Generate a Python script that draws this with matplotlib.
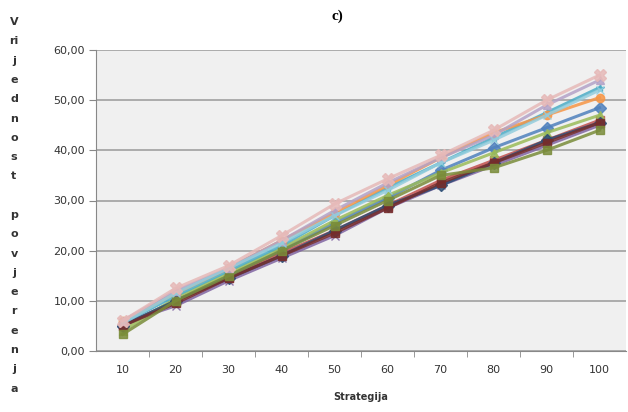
import matplotlib
matplotlib.use("Agg")
import matplotlib.pyplot as plt
import numpy as np

strategies = [10, 20, 30, 40, 50, 60, 70, 80, 90, 100]

s1 = [5.0, 10.0, 15.0, 20.0, 25.5, 30.5, 36.0, 40.5, 44.5, 48.5]
s2 = [5.0, 10.0, 14.5, 19.5, 24.0, 29.0, 34.0, 38.0, 42.0, 46.0]
s3 = [4.0, 10.5, 15.5, 20.5, 26.0, 31.0, 35.5, 39.5, 43.5, 47.0]
s4 = [5.5, 9.0, 14.0, 18.5, 23.0, 28.5, 33.0, 37.0, 41.0, 45.0]
s5 = [5.5, 11.0, 16.0, 21.0, 27.0, 32.5, 37.5, 42.5, 47.5, 52.5]
s6 = [6.0, 11.5, 16.5, 22.0, 27.5, 33.0, 38.5, 43.5, 47.0, 50.5]
s7 = [5.0, 10.0, 14.5, 19.0, 24.0, 29.0, 33.0, 37.5, 42.0, 45.5]
s8 = [5.0, 9.5, 14.5, 19.0, 23.5, 28.5, 33.5, 37.5, 41.5, 45.5]
s9 = [3.3, 10.0, 15.0, 20.0, 25.0, 30.0, 35.0, 36.5, 40.0, 44.0]
s10 = [6.0, 12.0, 16.5, 22.0, 28.0, 33.5, 38.5, 43.0, 49.0, 54.0]
s11 = [5.5, 11.5, 16.5, 21.5, 27.0, 32.0, 37.5, 42.0, 47.0, 52.0]
s12 = [6.0, 12.5, 17.0, 23.0, 29.3, 34.3, 39.0, 44.0, 50.0, 55.0]

series = [s1, s2, s3, s4, s5, s6, s7, s8, s9, s10, s11, s12]
colors = ['#4F81BD', '#C0504D', '#9BBB59', '#8064A2', '#4BACC6', '#F79646',
          '#2C4D75', '#772C2A', '#7A8C3A', '#B3A2C7', '#93CDDD', '#E6B9B8']
markers = ['D', 's', '^', 'x', '*', 'o', 'D', 's', 's', '^', 'x', 'X']

# stacked y label, Excel style (r and i share a row)
ylabel_rows = ['V', 'ri', 'j', 'e', 'd', 'n', 'o', 's', 't', '',
               'p', 'o', 'v', 'j', 'e', 'r', 'e', 'n', 'j', 'a']

fig = plt.figure(figsize=(6.28, 4.12), dpi=100)
ax = fig.add_axes([96 / 628, 1 - 351 / 412, 530 / 628, 301 / 412])
ax.set_facecolor('#F0F0F0')

x = np.arange(len(strategies))
for vals, c, m in zip(series, colors, markers):
    ms = 9 if m == 'X' else 6
    ax.plot(x, vals, color=c, lw=2.2, marker=m, ms=ms, alpha=0.85,
            markeredgecolor=c)

ax.set_xlim(-0.5, len(strategies) - 0.5)
ax.set_ylim(0, 60)
ax.set_yticks(np.arange(0, 61, 10))
ax.set_yticklabels(['%d,00' % v for v in range(0, 61, 10)],
                   fontsize=8, color='#333333')
ax.set_xticks(x)
ax.set_xticklabels([str(s) for s in strategies], fontsize=8, color='#333333')
ax.set_xticks(np.arange(0.5, len(strategies) - 0.5, 1), minor=True)
ax.tick_params(axis='x', which='major', length=0, pad=10)
ax.tick_params(axis='x', which='minor', length=4, color='#888888')
ax.tick_params(axis='y', length=5, color='#888888', pad=3)
ax.grid(axis='y', color='#A0A0A0', lw=1.2)
ax.set_axisbelow(True)
for side in ['top', 'right']:
    ax.spines[side].set_visible(False)
ax.spines['left'].set_color('#888888')
ax.spines['bottom'].set_color('#888888')

ax.set_xlabel('Strategija', fontsize=7, fontweight='bold', color='#333333',
              labelpad=12)

fig.text(337 / 628, 1 - 16 / 412, 'c)', fontsize=11, fontweight='bold',
         family='Liberation Serif', ha='center', va='center')

for i, ch in enumerate(ylabel_rows):
    if not ch:
        continue
    fig.text(14 / 628, 1 - (22 + i * 19.3) / 412, ch, fontsize=8,
             fontweight='bold', color='#333333', ha='center', va='center')

fig.savefig('out.png', dpi=100)
